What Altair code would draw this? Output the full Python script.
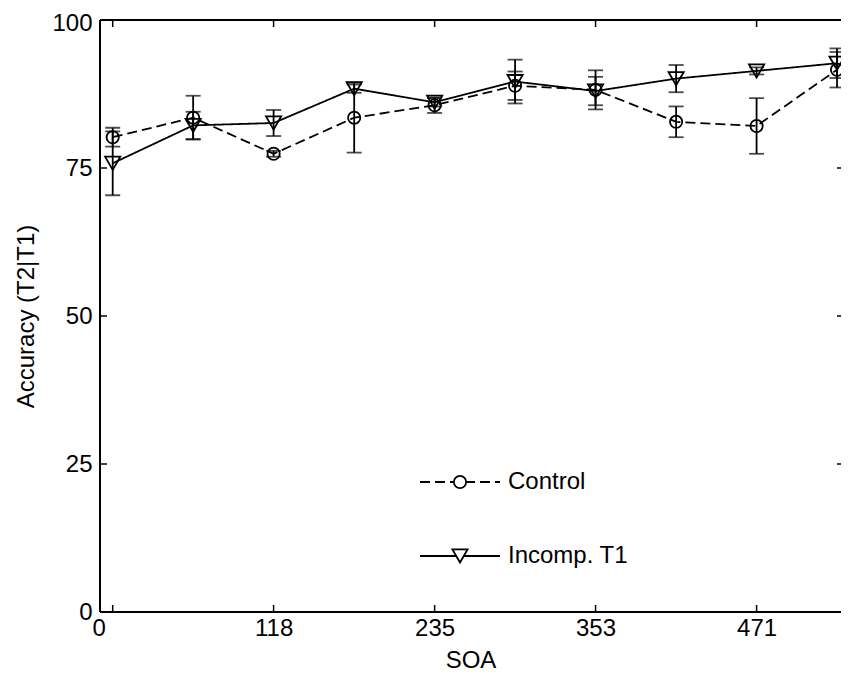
import altair as alt
import pandas as pd

# ---- data ----
soa = [0, 58.8, 117.6, 176.5, 235.3, 294.1, 352.9, 411.8, 470.6, 529.4]
series_names = ["Control", "Incomp. T1"]
control_mean = [80.2, 83.5, 77.4, 83.5, 85.6, 88.9, 88.2, 82.8, 82.1, 91.6]
control_err = [1.6, 3.7, 0.5, 5.9, 1.3, 2.4, 3.3, 2.6, 4.7, 3.0]
incomp_mean = [75.8, 82.2, 82.6, 88.4, 86.1, 89.6, 88.0, 90.1, 91.4, 92.7]
incomp_err = [5.4, 2.3, 2.2, 0.7, 0.7, 3.7, 2.4, 2.3, 0.6, 2.5]
x_ticks = [0, 117.6, 235.3, 352.9, 470.6]
y_ticks = [0, 25, 50, 75, 100]

rows = []
for name, means, errs in [(series_names[0], control_mean, control_err),
                          (series_names[1], incomp_mean, incomp_err)]:
    for s, m, e in zip(soa, means, errs):
        rows.append({"soa": s, "series": name, "mean": m, "lo": m - e, "hi": m + e})
df = pd.DataFrame(rows)
xt = pd.DataFrame({"v": x_ticks})
yt = pd.DataFrame({"v": y_ticks})
one = pd.DataFrame({"k": [0]})

W, H = 741, 592
FONT = "Liberation Sans"
FS = 24
LW = 1.8

xs = alt.Scale(domain=[-9.28, 532.3], nice=False, zero=False)
ys = alt.Scale(domain=[0, 100], nice=False, zero=False)

xaxis = alt.Axis(values=x_ticks, format=".0f", ticks=False, domain=False, grid=False,
                 labelPadding=4, labelFlush=False, labelOverlap=False,
                 labelOffset={"condition": {"test": "datum.value <= 0", "value": -14}, "value": 0},
                 titlePadding=8)
yaxis = alt.Axis(values=y_ticks, ticks=False, domain=False, grid=False,
                 labelPadding=8, labelFlush=False, labelOverlap=False, titlePadding=13,
                 labelOffset={"condition": {"test": "datum.value >= 100", "value": 3}, "value": 0})


def X(f):
    return alt.X(f"{f}:Q", scale=xs, axis=xaxis, title="SOA")


def Y(f):
    return alt.Y(f"{f}:Q", scale=ys, axis=yaxis, title="Accuracy (T2|T1)")


base = alt.Chart(df)

err = base.mark_rule(color="black", strokeWidth=LW).encode(x=X("soa"), y=Y("lo"), y2="hi:Q")
cap_lo = base.mark_tick(orient="horizontal", color="black", size=15, thickness=LW).encode(x=X("soa"), y=Y("lo"))
cap_hi = base.mark_tick(orient="horizontal", color="black", size=15, thickness=LW).encode(x=X("soa"), y=Y("hi"))

lines = base.mark_line(color="black", strokeWidth=LW).encode(
    x=X("soa"), y=Y("mean"),
    strokeDash=alt.StrokeDash("series:N", scale=alt.Scale(domain=series_names, range=[[10, 5], [1, 0]]), legend=None),
    detail="series:N",
)
points = base.mark_point(filled=False, color="black", strokeWidth=LW, opacity=1).encode(
    x=X("soa"), y=Y("mean"),
    shape=alt.Shape("series:N", scale=alt.Scale(domain=series_names, range=["circle", "triangle-down"]), legend=None),
    size=alt.Size("series:N", scale=alt.Scale(domain=series_names, range=[150, 230]), legend=None),
)

# inward tick marks
TL = 7
xt_bot = alt.Chart(xt).mark_rule(color="black", strokeWidth=1.5).encode(x=X("v"), y=alt.value(H), y2=alt.value(H - TL))
xt_top = alt.Chart(xt).mark_rule(color="black", strokeWidth=1.5).encode(x=X("v"), y=alt.value(0), y2=alt.value(TL))
yt_left = alt.Chart(yt).mark_rule(color="black", strokeWidth=1.5).encode(y=Y("v"), x=alt.value(0), x2=alt.value(TL))
yt_right = alt.Chart(yt).mark_rule(color="black", strokeWidth=1.5).encode(y=Y("v"), x=alt.value(W), x2=alt.value(W - 4))

# box: left, bottom, top (right edge falls off the picture in the reference)
box = alt.Chart(one)
border_left = box.mark_rule(color="black", strokeWidth=2).encode(x=alt.value(0), y=alt.value(0), y2=alt.value(H))
border_bottom = box.mark_rule(color="black", strokeWidth=2).encode(x=alt.value(0), x2=alt.value(W), y=alt.value(H))
border_top = box.mark_rule(color="black", strokeWidth=2).encode(x=alt.value(0), x2=alt.value(W), y=alt.value(0))

# legend (drawn inside the plot, lower centre)
legend_layers = []
for name, dash, shape, size, ly in [(series_names[0], [10, 5], "circle", 150, 462),
                                     (series_names[1], [1, 0], "triangle-down", 230, 536)]:
    legend_layers.append(box.mark_rule(color="black", strokeWidth=LW, strokeDash=dash).encode(
        x=alt.value(320), x2=alt.value(400), y=alt.value(ly)))
    legend_layers.append(box.mark_point(shape=shape, filled=False, color="black", strokeWidth=LW,
                                        size=size, opacity=1, fill="white", fillOpacity=1).encode(
        x=alt.value(360), y=alt.value(ly)))
    legend_layers.append(box.mark_text(align="left", baseline="middle", fontSize=FS, font=FONT,
                                       color="black").encode(
        x=alt.value(408), y=alt.value(ly), text=alt.value(name)))

chart = alt.layer(err, cap_lo, cap_hi, lines, points, xt_bot, xt_top, yt_left, yt_right,
                  border_left, border_bottom, border_top,
                  *legend_layers).properties(
    width=W, height=H,
    padding={"left": 92, "top": 12, "right": 0, "bottom": 62},
    autosize=alt.AutoSizeParams(type="none"),
).configure_view(
    stroke=None
).configure_axis(
    labelFont=FONT, titleFont=FONT, labelFontSize=FS, titleFontSize=FS,
    labelColor="black", titleColor="black", titleFontWeight="normal",
)

chart.save("out.html", embed_options={"renderer": "svg", "actions": False})
